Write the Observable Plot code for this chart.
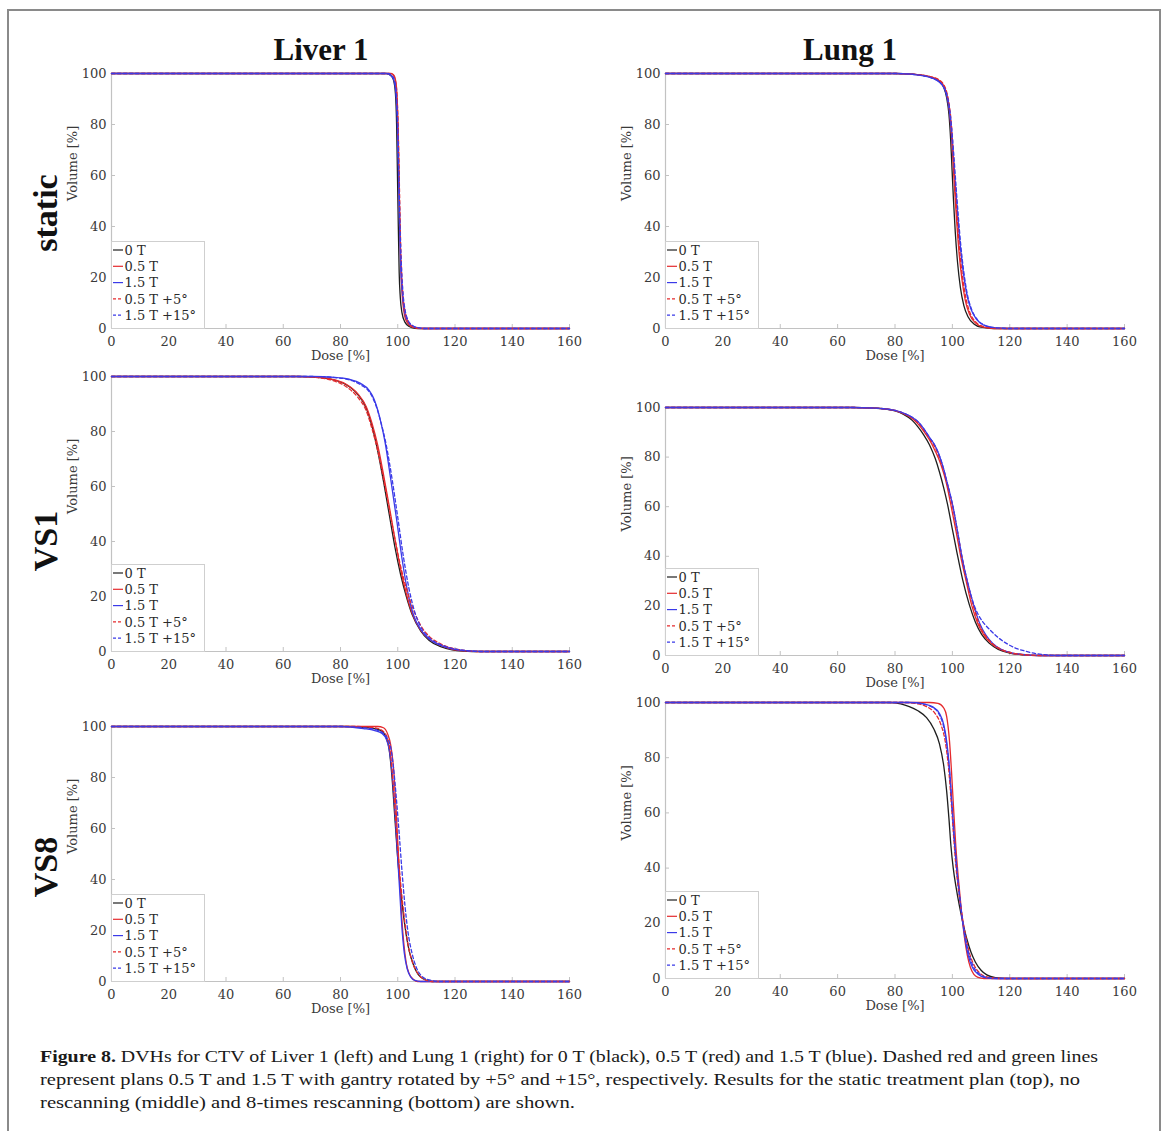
<!DOCTYPE html>
<html>
<head>
<meta charset="utf-8">
<script src="https://cdn.jsdelivr.net/npm/d3@7"></script>
<script src="https://cdn.jsdelivr.net/npm/@observablehq/plot@0.6"></script>
<style>
  body { margin: 0; background: #fff; }
  #fig { position: relative; width: 1170px; height: 1131px; overflow: hidden; background: #fff; }
  .frame { position: absolute; left: 7px; top: 9px; width: 1154px; height: 1160px; border: 2px solid #8a8a8a; box-sizing: border-box; }
  .coltitle { position: absolute; font-family: "Liberation Serif", serif; font-weight: bold; font-size: 31px; color: #111; white-space: nowrap; transform: translate(-50%, 0); line-height: 1; }
  .rowlabel { position: absolute; font-family: "Liberation Serif", serif; font-weight: bold; font-size: 34px; color: #111; white-space: nowrap; line-height: 1; transform: translate(-50%, -50%) rotate(-90deg); }
</style>
</head>
<body>
<div id="fig"><div class="frame"></div></div>
<script>
// ---------------- DATA ----------------
const xTicks = [0, 20, 40, 60, 80, 100, 120, 140, 160];
const yTicks = [0, 20, 40, 60, 80, 100];
const seriesNames = ["0 T", "0.5 T", "1.5 T", "0.5 T +5°", "1.5 T +15°"];
const columnTitles = ["Liver 1", "Lung 1"];
const rowTitles = ["static", "VS1", "VS8"];
const xLabel = "Dose [%]";
const yLabel = "Volume [%]";

// Liver 1 – static   [dose %, volume %]
const liverStatic_0T = [[0,100],[96,100],[97.5,99.3],[98.5,97.5],[99.2,92],[99.6,80],[99.9,60],[100.2,40],[100.5,22],[100.9,12],[101.5,6],[102.5,2.5],[104,0.8],[106,0.1],[108,0],[160,0]];
const liverStatic_05T = [[0,100],[97.5,100],[98.5,99.5],[99.3,97],[99.8,90],[100.2,75],[100.5,55],[100.8,35],[101.2,20],[101.7,11],[102.4,5],[103.5,2],[105,0.6],[107,0.1],[109,0],[160,0]];
const liverStatic_15T = [[0,100],[96,100],[97.3,99.4],[98.5,97.8],[99.3,93],[99.8,83],[100.2,65],[100.6,42],[101,25],[101.6,14],[102.3,7],[103.2,3.5],[104.5,1.4],[106.5,0.4],[109,0],[160,0]];
const liverStatic_05T5 = [[0,100],[97,100],[98.3,99.5],[99.2,97],[99.8,90],[100.2,76],[100.6,55],[101,34],[101.5,19],[102.1,10],[102.9,5],[104,2],[105.5,0.6],[107.5,0.1],[109.5,0],[160,0]];
const liverStatic_15T15 = [[0,100],[96.5,100],[97.8,99.4],[98.8,97.5],[99.5,92],[100,80],[100.4,60],[100.8,40],[101.3,24],[101.9,13],[102.6,7],[103.5,3.5],[105,1.3],[107,0.3],[109.5,0],[160,0]];

// Lung 1 – static
const lungStatic_0T = [[0,100],[80,100],[86,99.7],[90,99.2],[93,98.3],[95.5,96.8],[97,94.5],[98,90.5],[98.8,84],[99.4,74],[99.9,62],[100.4,50],[101,38],[101.8,26],[102.8,16],[104,9],[105.5,4.5],[107.5,1.8],[110,0.5],[113,0.1],[116,0],[160,0]];
const lungStatic_05T = [[0,100],[80,100],[86,99.7],[90,99.3],[93,98.5],[95.5,97.2],[97,95.2],[98,92],[98.9,86],[99.6,77],[100.2,66],[100.8,54],[101.5,42],[102.3,30],[103.3,19.5],[104.5,11],[106,5.5],[108,2.2],[110.5,0.6],[113.5,0.1],[116,0],[160,0]];
const lungStatic_15T = [[0,100],[80,100],[86,99.7],[90,99.1],[93,98.2],[95.5,96.6],[97,94.5],[98,91.5],[98.9,86],[99.6,78],[100.3,68],[101,57],[101.8,45],[102.7,33],[103.8,22],[105,13.5],[106.5,7.5],[108.5,3.5],[111,1.3],[114,0.4],[117,0.1],[120,0],[160,0]];
const lungStatic_05T5 = [[0,100],[80,100],[86,99.7],[90,99.3],[93,98.6],[95.5,97.4],[97,95.6],[98,92.8],[99,87],[99.8,78],[100.4,67],[101,55],[101.7,43],[102.5,31],[103.5,20.5],[104.7,12],[106.2,6],[108.2,2.5],[110.8,0.7],[114,0.15],[117,0],[160,0]];
const lungStatic_15T15 = [[0,100],[80,100],[86,99.7],[90,99.1],[93,98.2],[95.5,96.7],[97,94.7],[98,92],[99,86.5],[99.8,78],[100.5,68],[101.2,57],[102,45],[102.9,33],[104,22],[105.2,13.5],[106.7,7.5],[108.7,3.5],[111.2,1.3],[114.2,0.4],[117.5,0.1],[120,0],[160,0]];

// Liver 1 – VS1 (no rescanning)
const liverVS1_0T = [[0,100],[65,100],[72,99.7],[78,98.7],[82,97],[86,93.5],[89,88.5],[91,82],[93,73],[95,62],[97,50],[99,38],[101,28],[103,20],[105,13.5],[108,7.5],[111,4],[115,1.8],[119,0.6],[123,0.1],[126,0],[160,0]];
const liverVS1_05T = [[0,100],[65,100],[72,99.8],[78,98.8],[82,97.2],[86,93.8],[89,89],[91,83],[93,75],[95,64.5],[97,53],[99,41],[101,30],[103,21],[105,14],[108,7.8],[111,4.5],[115,2.2],[119,0.8],[124,0.2],[128,0],[160,0]];
const liverVS1_15T = [[0,100],[70,100],[78,99.7],[83,99],[87,97.5],[90,95],[91,93.3],[92,91],[93,87.8],[94,83.8],[95.5,76.5],[97.5,63],[99.6,48],[101.6,33],[103.6,21],[105.6,13],[108,8],[111,4.5],[115,2.2],[119,1],[124,0.3],[129,0],[160,0]];
const liverVS1_05T5 = [[0,100],[65,100],[72,99.6],[78,98.3],[82,96.3],[86,92.5],[89,87.5],[91,81],[93,73],[95,63],[97,52],[99,41],[101,31],[103,23],[105,16.5],[108,9.5],[111,5.5],[115,2.8],[119,1.2],[124,0.3],[128,0],[160,0]];
const liverVS1_15T15 = [[0,100],[70,100],[78,99.6],[83,98.8],[87,97],[90,94.5],[91,92.8],[92,90.5],[93,87.5],[94,83.8],[95.8,76],[97.9,63.5],[99.9,49.5],[101.9,35],[103.9,23],[105.9,14.5],[108,9],[111,5],[115,2.5],[119,1.1],[124,0.3],[129,0],[160,0]];

// Lung 1 – VS1
const lungVS1_0T = [[0,100],[65,100],[72,99.8],[77,99.3],[80,98.6],[83,97.2],[86,94.8],[88,92.2],[90,89],[92,85],[94,79.5],[95.5,74],[97,67.5],[98.3,61],[99.9,51.5],[101.6,41.5],[103.6,30.5],[105.9,20.5],[108,13.5],[110.2,8.5],[112.8,5],[116,2.5],[120,1],[125,0.25],[130,0],[160,0]];
const lungVS1_05T = [[0,100],[65,100],[72,99.8],[77,99.4],[80,98.7],[83,97.5],[86,95.6],[88,93.4],[90,90.5],[92,87],[94,82.5],[96,77],[97.8,70],[99.6,60],[101.3,50],[102.9,40],[104.8,30],[106.8,20],[108.8,13],[111,8.2],[113.4,5],[116.5,2.5],[120.5,1],[125,0.25],[130,0],[160,0]];
const lungVS1_15T = [[0,100],[65,100],[72,99.8],[77,99.4],[80,98.8],[83,97.7],[86,96],[88,94.3],[90,91.5],[92,88],[94,84.5],[95,82],[96,78.8],[97,75],[98,70.5],[99,66],[100.3,59.5],[101.8,50],[103.3,40],[105.2,30],[107.5,20],[109.5,13],[111.7,8.2],[114,5],[117,2.5],[121,1],[126,0.25],[131,0],[160,0]];
const lungVS1_05T5 = [[0,100],[65,100],[72,99.8],[77,99.4],[80,98.8],[83,97.6],[86,95.8],[88,94],[90,91],[92,87.5],[94,83.8],[95,81.2],[96,78],[97,74.3],[98,70],[99,65.5],[100,60.5],[101.6,51],[103.1,41],[105,30.5],[107.2,20.5],[109.2,13],[111.4,8.2],[113.8,5],[117,2.5],[121,1],[126,0.25],[131,0],[160,0]];
const lungVS1_15T15 = [[0,100],[65,100],[72,99.8],[77,99.4],[80,98.8],[83,97.7],[86,96],[88,94.3],[90,91.5],[92,88],[94,84.5],[95,82],[96,78.8],[97,75],[98,70.5],[99,66],[100.3,59.5],[101.8,50],[103.3,40],[105.2,30],[107.5,20.5],[109.5,15.5],[111.5,12.3],[113.4,10],[116,7.2],[118.7,5],[122,3],[125,1.9],[129,0.8],[133,0.2],[136,0],[160,0]];

// Liver 1 – VS8 (8-times rescanning)
const liverVS8_0T = [[0,100],[82,100],[90,99.5],[94,98.5],[96,95.5],[97,91],[98,80],[99,64],[100,48],[101,36],[102,26],[103,18],[104,12],[105.5,6.5],[107,3],[109,1],[112,0],[160,0]];
const liverVS8_05T = [[0,100],[93,100],[95,99.5],[96.5,97],[97.5,93],[98.5,84],[99.3,70],[100,55],[100.7,40],[101.4,25],[102.2,14],[103,7],[104,3],[105.5,0.8],[107,0],[160,0]];
const liverVS8_15T = [[0,100],[80,100],[88,99.2],[92,98.4],[94.5,97.3],[96,95],[97,91],[98,82],[99,67],[99.8,52],[100.6,37],[101.4,22],[102.3,11],[103.3,5],[104.5,1.8],[106,0.4],[108,0],[160,0]];
const liverVS8_05T5 = [[0,100],[85,100],[92,99.5],[95,98],[96.5,95],[97.5,89],[98.5,76],[99.5,60],[100.5,45],[101.5,33],[102.5,23],[103.5,15],[105,8],[107,3.2],[109,1],[112,0],[160,0]];
const liverVS8_15T15 = [[0,100],[80,100],[88,99.5],[93,98.5],[96,96],[97.5,92],[98.5,84],[99.5,72],[100.5,58],[101.5,43],[102.5,30],[103.5,20],[105,11],[106.5,5.5],[108.5,2],[111,0.6],[115,0],[160,0]];

// Lung 1 – VS8
const lungVS8_0T = [[0,100],[78,100],[82,99.5],[85,98.5],[88,97],[91,94.5],[93.5,90.5],[95.5,85],[97,77],[98,68],[98.8,58],[99.5,48],[100.3,40],[101.3,33],[102.5,26],[103.5,21],[105,14.5],[106.5,9.5],[108,6],[110,3],[112,1.3],[115,0.3],[119,0],[160,0]];
const lungVS8_05T = [[0,100],[92,100],[95,99.7],[97,98],[98,95],[99,86],[99.7,75],[100.4,62],[101.2,48],[102.2,35],[103.2,24],[104.2,15],[105.2,8.5],[106.3,4],[107.5,1.5],[109,0.4],[111,0],[160,0]];
const lungVS8_15T = [[0,100],[85,100],[90,99.5],[93,98.5],[95.5,96],[97,92],[98,86],[99,76],[99.8,64],[100.6,52],[101.5,40],[102.5,30],[103.5,21],[104.5,14],[105.5,8.5],[107,4],[109,1.5],[111,0.4],[114,0],[160,0]];
const lungVS8_05T5 = [[0,100],[83,100],[88,99.5],[91,98.5],[94,96],[96,92],[97.5,86],[98.7,76],[99.6,64],[100.4,52],[101.3,40],[102.4,30],[103.5,22],[104.7,15],[106,9],[107.5,5],[109.5,2],[112,0.6],[116,0],[160,0]];
const lungVS8_15T15 = [[0,100],[85,100],[90,99.4],[93,98.3],[95.5,95.5],[97,91],[98,85],[99,75],[99.8,63],[100.6,51],[101.5,40],[102.5,30],[103.5,21.5],[104.7,14],[106,8],[107.5,4],[109.5,1.6],[112,0.4],[116,0],[160,0]];

const captionLines = [
  ["Figure 8.", " DVHs for CTV of Liver 1 (left) and Lung 1 (right) for 0 T (black), 0.5 T (red) and 1.5 T (blue). Dashed red and green lines"],
  ["", "represent plans 0.5 T and 1.5 T with gantry rotated by +5° and +15°, respectively. Results for the static treatment plan (top), no"],
  ["", "rescanning (middle) and 8-times rescanning (bottom) are shown."]
];

// ---------------- STYLE / LAYOUT ----------------
const seriesColors = ["#1e1e1e", "#e52a2d", "#3a3ae8", "#e52a2d", "#3a3ae8"];
const seriesDash = [null, null, null, "3.5,2.5", "3.5,2.5"];

const panels = [
  {rect: {l: 111, t: 73,  w: 458, h: 255}, series: [liverStatic_0T, liverStatic_05T, liverStatic_15T, liverStatic_05T5, liverStatic_15T15]},
  {rect: {l: 665, t: 73,  w: 459, h: 255}, series: [lungStatic_0T, lungStatic_05T, lungStatic_15T, lungStatic_05T5, lungStatic_15T15]},
  {rect: {l: 111, t: 376, w: 458, h: 275}, series: [liverVS1_0T, liverVS1_05T, liverVS1_15T, liverVS1_05T5, liverVS1_15T15]},
  {rect: {l: 665, t: 407, w: 459, h: 248}, series: [lungVS1_0T, lungVS1_05T, lungVS1_15T, lungVS1_05T5, lungVS1_15T15]},
  {rect: {l: 111, t: 726, w: 458, h: 255}, series: [liverVS8_0T, liverVS8_05T, liverVS8_15T, liverVS8_05T5, liverVS8_15T15]},
  {rect: {l: 665, t: 702, w: 459, h: 276}, series: [lungVS8_0T, lungVS8_05T, lungVS8_15T, lungVS8_05T5, lungVS8_15T15]}
];

const fig = document.getElementById("fig");
const mL = 60, mR = 25, mT = 12, mB = 44;
const axisGray = "#c2c2c2";
const textColor = "#3a3a3a";

panels.forEach((p) => {
  const r = p.rect;
  const marks = [
    Plot.ruleY([0], {stroke: axisGray, strokeWidth: 1.2}),
    Plot.ruleX([0], {stroke: axisGray, strokeWidth: 1.2}),
    Plot.axisX({ticks: xTicks, tickSize: -4, tickFormat: () => "", stroke: axisGray, label: null}),
    Plot.axisY({ticks: yTicks, tickSize: -4, tickFormat: () => "", stroke: axisGray, label: null}),
    Plot.axisX({ticks: xTicks, tickSize: 0, tickPadding: 8, label: null, fill: textColor, fontSize: 13}),
    Plot.axisY({ticks: yTicks, tickSize: 0, tickPadding: 5, label: null, fill: textColor, fontSize: 13}),
    ...p.series.map((s, i) => Plot.line(s, {
      x: (d) => d[0], y: (d) => d[1],
      stroke: seriesColors[i], strokeWidth: 1.3,
      strokeDasharray: seriesDash[i] || undefined,
      curve: "monotone-x"
    })),
    Plot.text([xLabel], {frameAnchor: "bottom", dy: 31, fontSize: 13, fill: textColor}),
    Plot.text([yLabel], {frameAnchor: "left", dx: -39, rotate: -90, fontSize: 13, fill: textColor})
  ];
  const chart = Plot.plot({
    width: r.w + mL + mR,
    height: r.h + mT + mB,
    marginLeft: mL, marginRight: mR, marginTop: mT, marginBottom: mB,
    x: {domain: [0, 160]},
    y: {domain: [0, 100]},
    style: {fontFamily: "'DejaVu Serif', serif", fontSize: "13px", color: textColor, background: "transparent", overflow: "visible"},
    marks
  });
  chart.style.position = "absolute";
  chart.style.left = (r.l - mL) + "px";
  chart.style.top = (r.t - mT) + "px";
  fig.appendChild(chart);

  // legend box (lower-left inside the axes)
  const lw = 93, lh = 87;
  const leg = d3.create("svg")
    .attr("width", lw + 2).attr("height", lh + 2)
    .style("position", "absolute")
    .style("left", (r.l) + "px")
    .style("top", (r.t + r.h - lh) + "px")
    .style("overflow", "visible");
  leg.append("rect").attr("x", 0.5).attr("y", 0.5).attr("width", lw).attr("height", lh)
    .attr("fill", "#fff").attr("stroke", "#cfcfcf").attr("stroke-width", 1);
  seriesNames.forEach((name, i) => {
    const y = 9 + i * 16.3;
    leg.append("line").attr("x1", 2).attr("x2", 12).attr("y1", y).attr("y2", y)
      .attr("stroke", seriesColors[i]).attr("stroke-width", 1.2)
      .attr("stroke-dasharray", seriesDash[i] ? "3,2" : null);
    leg.append("text").attr("x", 13.5).attr("y", y).attr("dy", "0.36em")
      .attr("font-family", "'DejaVu Serif', serif").attr("font-size", 13)
      .attr("fill", "#2a2a2a").text(name);
  });
  fig.appendChild(leg.node());
});

// column titles
[[321, columnTitles[0]], [850, columnTitles[1]]].forEach(([x, t]) => {
  const d = document.createElement("div");
  d.className = "coltitle";
  d.style.left = x + "px";
  d.style.top = "34px";
  d.textContent = t;
  fig.appendChild(d);
});
// row titles
[[213, rowTitles[0]], [541, rowTitles[1]], [867, rowTitles[2]]].forEach(([y, t]) => {
  const d = document.createElement("div");
  d.className = "rowlabel";
  d.style.left = "46px";
  d.style.top = y + "px";
  d.textContent = t;
  fig.appendChild(d);
});

// caption
const cap = d3.create("svg").attr("width", 1170).attr("height", 100)
  .style("position", "absolute").style("left", "0px").style("top", "1040px");
const capLens = [1058, 1040, 535];
const capBase = [22, 45, 68];
captionLines.forEach((ln, i) => {
  const t = cap.append("text").attr("x", 40).attr("y", capBase[i])
    .attr("font-family", "'Liberation Serif', serif").attr("font-size", 17.5).attr("fill", "#1a1a1a")
    .attr("textLength", capLens[i]).attr("lengthAdjust", "spacingAndGlyphs");
  if (ln[0]) t.append("tspan").attr("font-weight", "bold").text(ln[0]);
  t.append("tspan").text(ln[1]);
});
fig.appendChild(cap.node());
</script>
</body>
</html>
